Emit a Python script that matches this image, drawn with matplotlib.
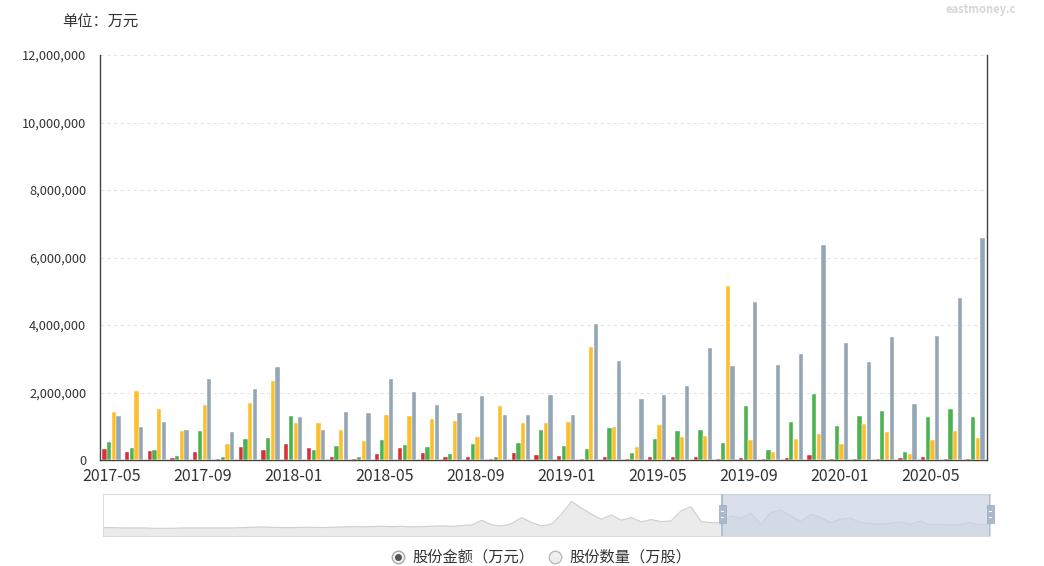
import matplotlib
matplotlib.use("Agg")
import matplotlib.pyplot as plt
from matplotlib.patches import Rectangle
import numpy as np

plt.rcParams['font.family'] = ['Noto Sans CJK SC', 'DejaVu Sans']

# monthly categories 2017-05 .. 2020-07
months = []
for y in (2017, 2018, 2019, 2020):
    for m in range(1, 13):
        if (y == 2017 and m < 5) or (y == 2020 and m > 7):
            continue
        months.append("%d-%02d" % (y, m))

# values in millions of 万元
red = [0.32, 0.25, 0.26, 0.07, 0.23, 0.04, 0.38, 0.31, 0.47, 0.35,
       0.08, 0.03, 0.18, 0.35, 0.22, 0.10, 0.08, 0.03, 0.21, 0.16,
       0.13, 0.02, 0.08, 0.04, 0.08, 0.08, 0.10, 0.02, 0.07, 0.02,
       0.06, 0.16, 0.02, 0.04, 0.02, 0.06, 0.10, 0.04, 0.03]
green = [0.53, 0.35, 0.30, 0.13, 0.86, 0.09, 0.61, 0.65, 1.31, 0.30,
         0.42, 0.09, 0.60, 0.44, 0.40, 0.17, 0.47, 0.09, 0.49, 0.90,
         0.42, 0.33, 0.94, 0.20, 0.63, 0.85, 0.88, 0.49, 1.61, 0.29,
         1.14, 1.97, 1.02, 1.29, 1.44, 0.23, 1.28, 1.51, 1.28]
yellow = [1.42, 2.05, 1.51, 0.85, 1.63, 0.47, 1.68, 2.35, 1.09, 1.11,
          0.89, 0.55, 1.32, 1.29, 1.22, 1.16, 0.68, 1.60, 1.10, 1.09,
          1.12, 3.35, 0.99, 0.39, 1.03, 0.67, 0.72, 5.15, 0.59, 0.25,
          0.61, 0.78, 0.47, 1.07, 0.84, 0.17, 0.60, 0.85, 0.65]
gray = [1.29, 0.97, 1.13, 0.89, 2.40, 0.82, 2.10, 2.75, 1.27, 0.88,
        1.43, 1.39, 2.41, 2.01, 1.63, 1.40, 1.89, 1.32, 1.33, 1.93,
        1.32, 4.04, 2.93, 1.80, 1.94, 2.19, 3.33, 2.78, 4.67, 2.81,
        3.13, 6.36, 3.47, 2.91, 3.63, 1.67, 3.66, 4.80, 6.57]

overview = [0, 0, -1, -1, -1, -2, -2, -2, -1, -1,
            -1, -1, -1, -1, 0, 1, 2, 1, 0, 0,
            1, 1, 0, 1, 2, 3, 2, 3, 4, 3,
            4, 2, 3, 4, 5, 4, 6, 8, 22, 8,
            5, 12, 30, 15, 5, 10, 40, 78, 58, 40,
            25, 38, 22, 30, 17, 24, 18, 20, 50, 62,
            18, 15, 14, 35, 28, 42, 10, 45, 52, 35,
            18, 40, 30, 15, 25, 28, 15, 12, 10, 13,
            17, 10, 20, 8, 10, 8, 9, 15, 8, 10]

colors = ['#d8303a', '#4cb14f', '#fbbf2d', '#93a6b3']
series = [red, green, yellow, gray]

fig = plt.figure(figsize=(10.44, 5.66), dpi=100)
ax = fig.add_axes([100 / 1044, 1 - 460 / 566, 887 / 1044, 405 / 566])

x = np.arange(len(months))
w = 0.205
for i, (vals, c) in enumerate(zip(series, colors)):
    ax.bar(x + (i - 1.5) * w, np.array(vals) * 1e6, w * 0.92, color=c,
           edgecolor='#ffffff', linewidth=0.3, zorder=3)

ax.set_xlim(-0.5, len(months) - 0.5)
ax.set_ylim(0, 12e6)
ax.set_yticks(np.arange(0, 12e6 + 1, 2e6))
ax.set_yticklabels(["{:,}".format(int(v)) for v in np.arange(0, 12e6 + 1, 2e6)])
ax.set_xticks(x[::4])
ax.set_xticklabels(months[::4])
ax.tick_params(length=0, colors='#333333')
ax.tick_params(axis='x', labelsize=11.5, pad=6)
ax.tick_params(axis='y', labelsize=9.2, pad=10)
ax.grid(axis='y', color='#e3e3e3', linestyle=(0, (3, 3)), linewidth=0.8, zorder=0)
ax.spines['top'].set_visible(False)
for s in ('left', 'right', 'bottom'):
    ax.spines[s].set_color('#444444')
    ax.spines[s].set_linewidth(1)

# zoom slider
sl = fig.add_axes([103 / 1044, 1 - 536 / 566, 887 / 1044, 42 / 566])
ox = np.arange(len(overview))
sl.fill_between(ox, -25, overview, color='#ebebeb', zorder=1)
sl.plot(ox, overview, color='#d0d0d0', linewidth=0.8, zorder=2)
sl.set_xlim(0, len(overview) - 1)
sl.set_ylim(-25, 100)
sel0 = (722 - 103) / 887 * (len(overview) - 1)
sl.axvspan(sel0, len(overview) - 1, color='#c9d3e3', alpha=0.7, zorder=3)
for hx in (sel0, len(overview) - 1):
    sl.axvline(hx, color='#a9b8cc', linewidth=1.2, zorder=4)
sl.set_xticks([])
sl.set_yticks([])
for s in sl.spines.values():
    s.set_color('#dddddd')

# texts
fig.text(62 / 1044, 1 - 22 / 566, "单位：万元", fontsize=11, color='#333333', va='center')
fig.text(945 / 1044, 1 - 10 / 566, "eastmoney.c", fontsize=8, color='#d6d6d6',
         va='center', fontweight='bold')

ov = fig.add_axes([0, 0, 1, 1], facecolor='none')
ov.set_xlim(0, 1044)
ov.set_ylim(566, 0)
ov.axis('off')
for hx in (722, 990):
    ov.add_patch(Rectangle((hx - 3.5, 505), 7, 18, facecolor='#a9b8cc',
                           edgecolor='#9aaac0', linewidth=0.5, zorder=5))
    ov.plot([hx - 1, hx + 1], [511, 511], color='white', linewidth=0.8, zorder=6)
    ov.plot([hx - 1, hx + 1], [517, 517], color='white', linewidth=0.8, zorder=6)
ov.plot([398], [557], marker='o', markersize=9, markerfacecolor='#f0f0f0',
        markeredgecolor='#aaaaaa', linestyle='none')
ov.plot([398], [557], marker='o', markersize=4, color='#555555', linestyle='none')
ov.plot([555], [557], marker='o', markersize=9, markerfacecolor='#eeeeee',
        markeredgecolor='#bbbbbb', linestyle='none')
ov.text(412, 557, "股份金额（万元）", fontsize=11, color='#333333', va='center')
ov.text(569, 557, "股份数量（万股）", fontsize=11, color='#333333', va='center')

fig.savefig("out.png", dpi=100)
